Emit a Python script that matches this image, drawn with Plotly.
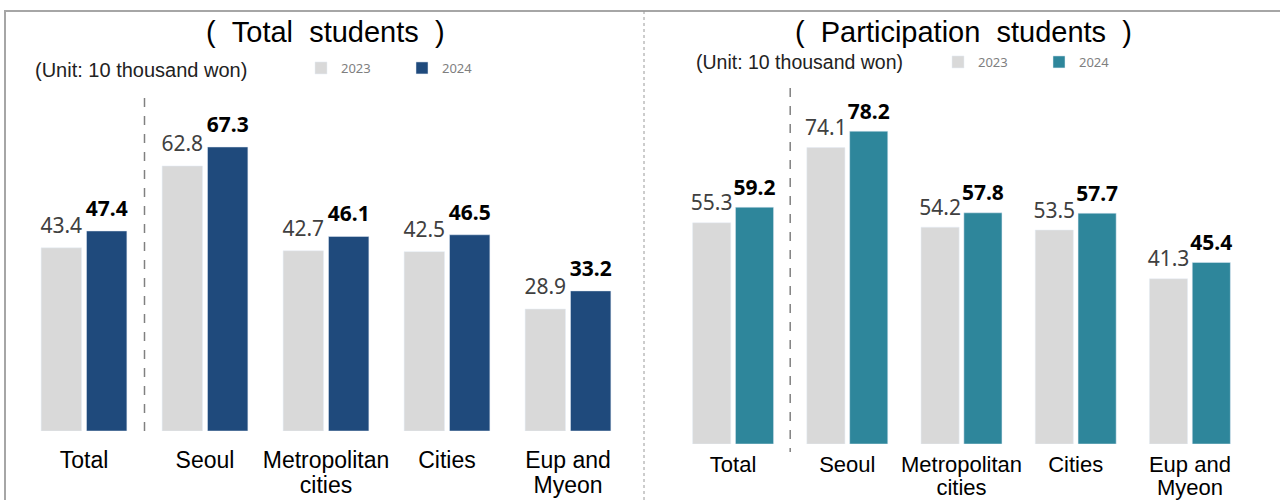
import plotly.graph_objects as go

# data (unit: 10 thousand won)
categories = ["Total", "Seoul", "Metropolitan<br>cities", "Cities", "Eup and<br>Myeon"]
total_2023 = [43.4, 62.8, 42.7, 42.5, 28.9]
total_2024 = [47.4, 67.3, 46.1, 46.5, 33.2]
part_2023 = [55.3, 74.1, 54.2, 53.5, 41.3]
part_2024 = [59.2, 78.2, 57.8, 57.7, 45.4]
years = ["2023", "2024"]

W, H = 1280, 500
GRAY = "#d9d9d9"
NAVY = "#1f4a7c"
TEAL = "#2e869b"


def px_x(v):
    return v / W


def px_y(v):
    # pixel from top -> paper coordinate
    return (H - v) / H


def tick_text(size):
    # bigger glyphs than the axis font, so the two lines sit closer together
    return ["<br>".join(f"<span style='font-size:{size}px'>{part}</span>"
                        for part in c.split("<br>")) for c in categories]


label_font = dict(family="Noto Sans", size=21, color="#404040")
bold_font = dict(family="Noto Sans", size=21, color="#000000", weight="bold")

fig = go.Figure()


def add_panel(vals23, vals24, color24, xa, ya, leg, gap_size):
    fig.add_trace(go.Bar(x=categories, y=vals23, name=years[0], marker_color=GRAY,
                         offsetgroup="a", xaxis=xa, yaxis=ya, legend=leg))
    fig.add_trace(go.Bar(x=categories, y=vals24, name=years[1], marker_color=color24,
                         offsetgroup="b", xaxis=xa, yaxis=ya, legend=leg))
    # value labels, grouped the same way as the bars
    for vals, grp, font in ((vals23, "a", label_font), (vals24, "b", bold_font)):
        fig.add_trace(go.Scatter(
            x=categories, y=vals, mode="markers+text",
            text=[f"{v:.1f}" for v in vals], textposition="top center", textfont=font,
            marker=dict(size=gap_size, opacity=0), offsetgroup=grp,
            xaxis=xa, yaxis=ya, showlegend=False, cliponaxis=False, hoverinfo="skip",
        ))


add_panel(total_2023, total_2024, NAVY, "x", "y", "legend", 14)
add_panel(part_2023, part_2024, TEAL, "x2", "y2", "legend2", 10)

# decorative frame lines and group separators
shapes = [
    dict(type="line", xref="paper", yref="paper", x0=px_x(4), x1=1, y0=px_y(11), y1=px_y(11),
         line=dict(color="#a6a6a6", width=2)),
    dict(type="line", xref="paper", yref="paper", x0=px_x(5), x1=px_x(5), y0=px_y(11), y1=0,
         line=dict(color="#a6a6a6", width=2)),
    dict(type="line", xref="paper", yref="paper", x0=px_x(644), x1=px_x(644), y0=px_y(11), y1=0,
         line=dict(color="#9a9a9a", width=1, dash="dot")),
    dict(type="line", xref="x", yref="paper", x0=0.5, x1=0.5, y0=px_y(98), y1=px_y(436),
         line=dict(color="#808080", width=1.5, dash="dash")),
    dict(type="line", xref="x2", yref="paper", x0=0.5, x1=0.5, y0=px_y(88), y1=px_y(452),
         line=dict(color="#808080", width=1.5, dash="dash")),
]

nb = "\u00a0"
annotations = [
    dict(text=f"({nb}{nb}Total{nb}{nb}students{nb}{nb})", xref="paper", yref="paper",
         x=px_x(325), y=px_y(32), showarrow=False, xanchor="center", yanchor="middle",
         font=dict(family="Liberation Sans", size=29, color="#000000")),
    dict(text=f"({nb}{nb}Participation{nb}{nb}students{nb}{nb})", xref="paper", yref="paper",
         x=px_x(963), y=px_y(32), showarrow=False, xanchor="center", yanchor="middle",
         font=dict(family="Liberation Sans", size=29, color="#000000")),
    dict(text="(Unit: 10 thousand won)", xref="paper", yref="paper",
         x=px_x(33), y=px_y(70), showarrow=False, xanchor="left", yanchor="middle",
         font=dict(family="Liberation Sans", size=20, color="#222222")),
    dict(text="(Unit: 10 thousand won)", xref="paper", yref="paper",
         x=px_x(694), y=px_y(62), showarrow=False, xanchor="left", yanchor="middle",
         font=dict(family="Liberation Sans", size=19.5, color="#222222")),
]

legend_style = dict(
    orientation="h", xanchor="left", yanchor="middle",
    font=dict(family="Noto Sans", size=13, color="#7f7f7f"),
    bgcolor="rgba(0,0,0,0)", itemwidth=30,
    entrywidth=56, entrywidthmode="pixels",
)

fig.update_layout(
    width=W, height=H,
    margin=dict(l=0, r=0, t=0, b=0, autoexpand=False),
    paper_bgcolor="white", plot_bgcolor="white",
    barmode="group", bargap=0.25, bargroupgap=0.11,
    scattermode="group", scattergap=0.25,
    showlegend=True,
    legend=dict(x=px_x(301), y=px_y(68), **legend_style),
    legend2=dict(x=px_x(938), y=px_y(62), **legend_style),
    xaxis=dict(domain=[px_x(23.5), px_x(628.5)], anchor="y", automargin=False,
               showline=False, showgrid=False, zeroline=False,
               tickvals=categories, ticktext=tick_text(23),
               ticks="outside", ticklen=13, tickcolor="rgba(0,0,0,0)",
               tickfont=dict(family="Liberation Sans", size=19, color="#000000")),
    yaxis=dict(domain=[px_y(431), px_y(93.4)], range=[0, 80], anchor="x",
               automargin=False, visible=False),
    xaxis2=dict(domain=[px_x(676), px_x(1247)], anchor="y2", automargin=False,
                showline=False, showgrid=False, zeroline=False,
                tickvals=categories, ticktext=tick_text(22),
                ticks="outside", ticklen=5, tickcolor="rgba(0,0,0,0)",
                tickfont=dict(family="Liberation Sans", size=18, color="#000000")),
    yaxis2=dict(domain=[px_y(444), px_y(104)], range=[0, 85], anchor="x2",
                automargin=False, visible=False),
    shapes=shapes,
    annotations=annotations,
)

# the page body has a default margin; drop it so the figure sits at 0,0
fig.write_html("out.html", config={"displayModeBar": False},
               post_script="document.body.style.margin='0px';")
